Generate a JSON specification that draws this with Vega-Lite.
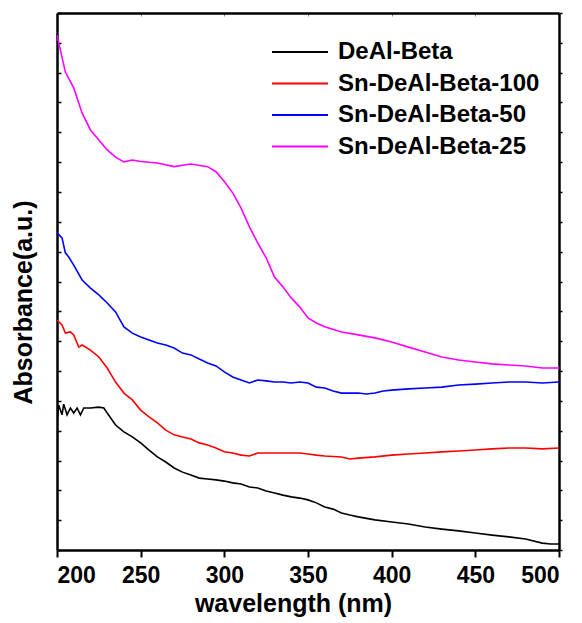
{
  "$schema": "https://vega.github.io/schema/vega-lite/v6.json",
  "width": 502,
  "height": 537,
  "autosize": "none",
  "padding": {"left": 57, "top": 13, "right": 23, "bottom": 73},
  "background": "white",
  "config": {
    "view": {"stroke": null},
    "font": "Liberation Sans",
    "axis": {"grid": false, "domainColor": "black", "domainWidth": 2.5, "tickColor": "black"}
  },
  "data": {"values": [
    {"s":"Sn-DeAl-Beta-25","w":200,"a":17.26},{"s":"Sn-DeAl-Beta-25","w":205,"a":16.02},{"s":"Sn-DeAl-Beta-25","w":210,"a":15.49},{"s":"Sn-DeAl-Beta-25","w":215,"a":14.65},{"s":"Sn-DeAl-Beta-25","w":220,"a":14.08},{"s":"Sn-DeAl-Beta-25","w":225,"a":13.74},{"s":"Sn-DeAl-Beta-25","w":230,"a":13.41},{"s":"Sn-DeAl-Beta-25","w":235,"a":13.17},{"s":"Sn-DeAl-Beta-25","w":240,"a":13.01},{"s":"Sn-DeAl-Beta-25","w":245,"a":13.07},{"s":"Sn-DeAl-Beta-25","w":250,"a":13.02},{"s":"Sn-DeAl-Beta-25","w":260,"a":12.97},{"s":"Sn-DeAl-Beta-25","w":270,"a":12.85},{"s":"Sn-DeAl-Beta-25","w":280,"a":12.94},{"s":"Sn-DeAl-Beta-25","w":290,"a":12.85},{"s":"Sn-DeAl-Beta-25","w":295,"a":12.68},{"s":"Sn-DeAl-Beta-25","w":300,"a":12.35},{"s":"Sn-DeAl-Beta-25","w":305,"a":11.97},{"s":"Sn-DeAl-Beta-25","w":310,"a":11.46},{"s":"Sn-DeAl-Beta-25","w":315,"a":10.83},{"s":"Sn-DeAl-Beta-25","w":320,"a":10.29},{"s":"Sn-DeAl-Beta-25","w":325,"a":9.79},{"s":"Sn-DeAl-Beta-25","w":330,"a":9.15},{"s":"Sn-DeAl-Beta-25","w":335,"a":8.82},{"s":"Sn-DeAl-Beta-25","w":340,"a":8.45},{"s":"Sn-DeAl-Beta-25","w":345,"a":8.15},{"s":"Sn-DeAl-Beta-25","w":350,"a":7.78},{"s":"Sn-DeAl-Beta-25","w":355,"a":7.61},{"s":"Sn-DeAl-Beta-25","w":360,"a":7.48},{"s":"Sn-DeAl-Beta-25","w":370,"a":7.31},{"s":"Sn-DeAl-Beta-25","w":380,"a":7.21},{"s":"Sn-DeAl-Beta-25","w":390,"a":7.11},{"s":"Sn-DeAl-Beta-25","w":400,"a":6.97},{"s":"Sn-DeAl-Beta-25","w":410,"a":6.8},{"s":"Sn-DeAl-Beta-25","w":420,"a":6.64},{"s":"Sn-DeAl-Beta-25","w":430,"a":6.47},{"s":"Sn-DeAl-Beta-25","w":440,"a":6.37},{"s":"Sn-DeAl-Beta-25","w":450,"a":6.3},{"s":"Sn-DeAl-Beta-25","w":460,"a":6.24},{"s":"Sn-DeAl-Beta-25","w":470,"a":6.2},{"s":"Sn-DeAl-Beta-25","w":480,"a":6.17},{"s":"Sn-DeAl-Beta-25","w":490,"a":6.1},{"s":"Sn-DeAl-Beta-25","w":500,"a":6.1},
    {"s":"Sn-DeAl-Beta-50","w":200,"a":10.63},{"s":"Sn-DeAl-Beta-50","w":203,"a":10.46},{"s":"Sn-DeAl-Beta-50","w":205,"a":9.96},{"s":"Sn-DeAl-Beta-50","w":207,"a":9.82},{"s":"Sn-DeAl-Beta-50","w":210,"a":9.55},{"s":"Sn-DeAl-Beta-50","w":215,"a":9.05},{"s":"Sn-DeAl-Beta-50","w":220,"a":8.78},{"s":"Sn-DeAl-Beta-50","w":225,"a":8.55},{"s":"Sn-DeAl-Beta-50","w":230,"a":8.28},{"s":"Sn-DeAl-Beta-50","w":235,"a":7.98},{"s":"Sn-DeAl-Beta-50","w":240,"a":7.48},{"s":"Sn-DeAl-Beta-50","w":245,"a":7.27},{"s":"Sn-DeAl-Beta-50","w":250,"a":7.14},{"s":"Sn-DeAl-Beta-50","w":255,"a":7.04},{"s":"Sn-DeAl-Beta-50","w":260,"a":6.94},{"s":"Sn-DeAl-Beta-50","w":265,"a":6.87},{"s":"Sn-DeAl-Beta-50","w":270,"a":6.77},{"s":"Sn-DeAl-Beta-50","w":275,"a":6.6},{"s":"Sn-DeAl-Beta-50","w":280,"a":6.54},{"s":"Sn-DeAl-Beta-50","w":285,"a":6.4},{"s":"Sn-DeAl-Beta-50","w":290,"a":6.27},{"s":"Sn-DeAl-Beta-50","w":295,"a":6.17},{"s":"Sn-DeAl-Beta-50","w":300,"a":5.97},{"s":"Sn-DeAl-Beta-50","w":305,"a":5.8},{"s":"Sn-DeAl-Beta-50","w":310,"a":5.7},{"s":"Sn-DeAl-Beta-50","w":315,"a":5.6},{"s":"Sn-DeAl-Beta-50","w":320,"a":5.7},{"s":"Sn-DeAl-Beta-50","w":325,"a":5.67},{"s":"Sn-DeAl-Beta-50","w":330,"a":5.63},{"s":"Sn-DeAl-Beta-50","w":335,"a":5.63},{"s":"Sn-DeAl-Beta-50","w":340,"a":5.6},{"s":"Sn-DeAl-Beta-50","w":345,"a":5.63},{"s":"Sn-DeAl-Beta-50","w":350,"a":5.6},{"s":"Sn-DeAl-Beta-50","w":355,"a":5.46},{"s":"Sn-DeAl-Beta-50","w":360,"a":5.43},{"s":"Sn-DeAl-Beta-50","w":365,"a":5.33},{"s":"Sn-DeAl-Beta-50","w":370,"a":5.26},{"s":"Sn-DeAl-Beta-50","w":375,"a":5.26},{"s":"Sn-DeAl-Beta-50","w":380,"a":5.26},{"s":"Sn-DeAl-Beta-50","w":385,"a":5.23},{"s":"Sn-DeAl-Beta-50","w":390,"a":5.26},{"s":"Sn-DeAl-Beta-50","w":395,"a":5.33},{"s":"Sn-DeAl-Beta-50","w":400,"a":5.36},{"s":"Sn-DeAl-Beta-50","w":410,"a":5.4},{"s":"Sn-DeAl-Beta-50","w":420,"a":5.43},{"s":"Sn-DeAl-Beta-50","w":430,"a":5.46},{"s":"Sn-DeAl-Beta-50","w":440,"a":5.53},{"s":"Sn-DeAl-Beta-50","w":450,"a":5.56},{"s":"Sn-DeAl-Beta-50","w":460,"a":5.6},{"s":"Sn-DeAl-Beta-50","w":470,"a":5.63},{"s":"Sn-DeAl-Beta-50","w":480,"a":5.63},{"s":"Sn-DeAl-Beta-50","w":490,"a":5.6},{"s":"Sn-DeAl-Beta-50","w":500,"a":5.63},
    {"s":"Sn-DeAl-Beta-100","w":200,"a":7.71},{"s":"Sn-DeAl-Beta-100","w":203,"a":7.54},{"s":"Sn-DeAl-Beta-100","w":205,"a":7.27},{"s":"Sn-DeAl-Beta-100","w":208,"a":7.31},{"s":"Sn-DeAl-Beta-100","w":210,"a":7.21},{"s":"Sn-DeAl-Beta-100","w":213,"a":6.8},{"s":"Sn-DeAl-Beta-100","w":215,"a":6.87},{"s":"Sn-DeAl-Beta-100","w":220,"a":6.7},{"s":"Sn-DeAl-Beta-100","w":225,"a":6.47},{"s":"Sn-DeAl-Beta-100","w":230,"a":6.1},{"s":"Sn-DeAl-Beta-100","w":235,"a":5.63},{"s":"Sn-DeAl-Beta-100","w":240,"a":5.26},{"s":"Sn-DeAl-Beta-100","w":245,"a":5.03},{"s":"Sn-DeAl-Beta-100","w":250,"a":4.69},{"s":"Sn-DeAl-Beta-100","w":255,"a":4.46},{"s":"Sn-DeAl-Beta-100","w":260,"a":4.26},{"s":"Sn-DeAl-Beta-100","w":265,"a":4.02},{"s":"Sn-DeAl-Beta-100","w":270,"a":3.86},{"s":"Sn-DeAl-Beta-100","w":275,"a":3.79},{"s":"Sn-DeAl-Beta-100","w":280,"a":3.72},{"s":"Sn-DeAl-Beta-100","w":285,"a":3.59},{"s":"Sn-DeAl-Beta-100","w":290,"a":3.52},{"s":"Sn-DeAl-Beta-100","w":295,"a":3.42},{"s":"Sn-DeAl-Beta-100","w":300,"a":3.29},{"s":"Sn-DeAl-Beta-100","w":305,"a":3.25},{"s":"Sn-DeAl-Beta-100","w":310,"a":3.18},{"s":"Sn-DeAl-Beta-100","w":315,"a":3.15},{"s":"Sn-DeAl-Beta-100","w":320,"a":3.25},{"s":"Sn-DeAl-Beta-100","w":325,"a":3.25},{"s":"Sn-DeAl-Beta-100","w":330,"a":3.25},{"s":"Sn-DeAl-Beta-100","w":335,"a":3.25},{"s":"Sn-DeAl-Beta-100","w":340,"a":3.25},{"s":"Sn-DeAl-Beta-100","w":345,"a":3.25},{"s":"Sn-DeAl-Beta-100","w":350,"a":3.22},{"s":"Sn-DeAl-Beta-100","w":355,"a":3.18},{"s":"Sn-DeAl-Beta-100","w":360,"a":3.15},{"s":"Sn-DeAl-Beta-100","w":370,"a":3.12},{"s":"Sn-DeAl-Beta-100","w":375,"a":3.05},{"s":"Sn-DeAl-Beta-100","w":380,"a":3.08},{"s":"Sn-DeAl-Beta-100","w":390,"a":3.12},{"s":"Sn-DeAl-Beta-100","w":400,"a":3.18},{"s":"Sn-DeAl-Beta-100","w":410,"a":3.22},{"s":"Sn-DeAl-Beta-100","w":420,"a":3.25},{"s":"Sn-DeAl-Beta-100","w":430,"a":3.29},{"s":"Sn-DeAl-Beta-100","w":440,"a":3.32},{"s":"Sn-DeAl-Beta-100","w":450,"a":3.35},{"s":"Sn-DeAl-Beta-100","w":460,"a":3.39},{"s":"Sn-DeAl-Beta-100","w":470,"a":3.42},{"s":"Sn-DeAl-Beta-100","w":480,"a":3.42},{"s":"Sn-DeAl-Beta-100","w":490,"a":3.39},{"s":"Sn-DeAl-Beta-100","w":500,"a":3.42},
    {"s":"DeAl-Beta","w":200,"a":4.29},{"s":"DeAl-Beta","w":201,"a":4.86},{"s":"DeAl-Beta","w":203,"a":4.53},{"s":"DeAl-Beta","w":204,"a":4.89},{"s":"DeAl-Beta","w":206,"a":4.53},{"s":"DeAl-Beta","w":208,"a":4.76},{"s":"DeAl-Beta","w":210,"a":4.59},{"s":"DeAl-Beta","w":212,"a":4.76},{"s":"DeAl-Beta","w":214,"a":4.53},{"s":"DeAl-Beta","w":216,"a":4.76},{"s":"DeAl-Beta","w":220,"a":4.76},{"s":"DeAl-Beta","w":225,"a":4.79},{"s":"DeAl-Beta","w":228,"a":4.76},{"s":"DeAl-Beta","w":230,"a":4.59},{"s":"DeAl-Beta","w":235,"a":4.19},{"s":"DeAl-Beta","w":240,"a":3.96},{"s":"DeAl-Beta","w":245,"a":3.79},{"s":"DeAl-Beta","w":250,"a":3.59},{"s":"DeAl-Beta","w":255,"a":3.35},{"s":"DeAl-Beta","w":260,"a":3.12},{"s":"DeAl-Beta","w":265,"a":2.95},{"s":"DeAl-Beta","w":270,"a":2.75},{"s":"DeAl-Beta","w":275,"a":2.61},{"s":"DeAl-Beta","w":280,"a":2.51},{"s":"DeAl-Beta","w":285,"a":2.41},{"s":"DeAl-Beta","w":290,"a":2.38},{"s":"DeAl-Beta","w":295,"a":2.35},{"s":"DeAl-Beta","w":300,"a":2.31},{"s":"DeAl-Beta","w":305,"a":2.25},{"s":"DeAl-Beta","w":310,"a":2.21},{"s":"DeAl-Beta","w":315,"a":2.11},{"s":"DeAl-Beta","w":320,"a":2.08},{"s":"DeAl-Beta","w":325,"a":1.98},{"s":"DeAl-Beta","w":330,"a":1.91},{"s":"DeAl-Beta","w":335,"a":1.84},{"s":"DeAl-Beta","w":340,"a":1.78},{"s":"DeAl-Beta","w":345,"a":1.74},{"s":"DeAl-Beta","w":350,"a":1.68},{"s":"DeAl-Beta","w":355,"a":1.58},{"s":"DeAl-Beta","w":360,"a":1.44},{"s":"DeAl-Beta","w":365,"a":1.37},{"s":"DeAl-Beta","w":370,"a":1.24},{"s":"DeAl-Beta","w":375,"a":1.17},{"s":"DeAl-Beta","w":380,"a":1.11},{"s":"DeAl-Beta","w":390,"a":1.01},{"s":"DeAl-Beta","w":400,"a":0.94},{"s":"DeAl-Beta","w":410,"a":0.87},{"s":"DeAl-Beta","w":420,"a":0.77},{"s":"DeAl-Beta","w":430,"a":0.7},{"s":"DeAl-Beta","w":440,"a":0.64},{"s":"DeAl-Beta","w":450,"a":0.57},{"s":"DeAl-Beta","w":460,"a":0.5},{"s":"DeAl-Beta","w":470,"a":0.44},{"s":"DeAl-Beta","w":480,"a":0.37},{"s":"DeAl-Beta","w":490,"a":0.23},{"s":"DeAl-Beta","w":495,"a":0.2},{"s":"DeAl-Beta","w":500,"a":0.2}
  ]},
  "layer": [
    {
      "mark": {"type": "line", "strokeWidth": 1.6, "clip": true},
      "encoding": {
        "x": {"field": "w", "type": "quantitative", "scale": {"domain": [200, 500], "nice": false},
          "axis": {"orient": "bottom", "values": [200,250,300,350,400,450,500], "tickSize": 7, "tickWidth": 2, "labelFontSize": 23, "labelFontWeight": "bold", "labelColor": "black", "labelPadding": 7, "title": "wavelength (nm)", "titleFontSize": 25, "titleFontWeight": "bold", "titleColor": "black", "titlePadding": 4, "titleX": 236}},
        "y": {"field": "a", "type": "quantitative", "scale": {"domain": [0, 18], "nice": false, "zero": false},
          "axis": {"orient": "left", "values": [0,1,2,3,4,5,6,7,8,9,10,11,12,13,14,15,16,17,18], "tickSize": -4, "tickWidth": 1.5, "labels": false, "title": "Absorbance(a.u.)", "titleFontSize": 25, "titleFontWeight": "bold", "titleColor": "black", "titlePadding": 20, "titleY": 289}},
        "color": {"field": "s", "type": "nominal",
          "scale": {"domain": ["DeAl-Beta", "Sn-DeAl-Beta-100", "Sn-DeAl-Beta-50", "Sn-DeAl-Beta-25"], "range": ["#000000", "#ff0000", "#0000ff", "#ff00ff"]},
          "legend": {"orient": "none", "legendX": 231, "legendY": 27, "title": null, "symbolType": "M-4.67,0L4.67,0", "symbolSize": 144, "symbolStrokeWidth": 2, "symbolFillColor": "transparent", "labelFontSize": 24, "labelFontWeight": "bold", "labelColor": "black", "labelOffset": 26, "labelLimit": 400, "rowPadding": 7.5, "padding": 0}}
      }
    },
    {
      "mark": {"type": "line", "opacity": 0},
      "encoding": {
        "x": {"field": "w", "type": "quantitative", "scale": {"domain": [200, 500], "nice": false},
          "axis": {"orient": "top", "values": [250,300,350,400,450], "tickSize": -3, "tickWidth": 1, "tickColor": "#888888", "labels": false, "title": null}},
        "y": {"field": "a", "type": "quantitative", "scale": {"domain": [0, 18], "nice": false, "zero": false},
          "axis": {"orient": "right", "values": [0,1,2,3,4,5,6,7,8,9,10,11,12,13,14,15,16,17,18], "tickSize": 3, "tickWidth": 1.5, "labels": false, "title": null}},
        "detail": {"field": "s", "type": "nominal"}
      }
    }
  ],
  "resolve": {"axis": {"x": "independent", "y": "independent"}}
}
